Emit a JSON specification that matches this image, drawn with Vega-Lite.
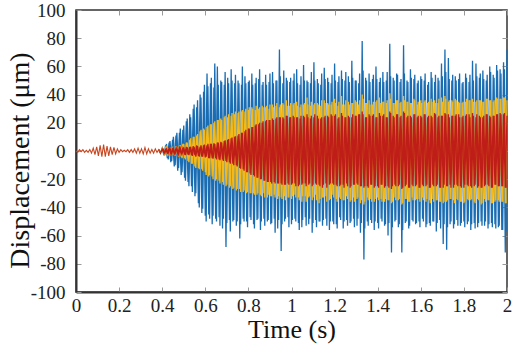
{
"$schema":"https://vega.github.io/schema/vega-lite/v6.json",
"width":431,"height":282,
"autosize":{"type":"none"},
"padding":{"left":76,"top":10,"right":11,"bottom":55},
"background":"white",
"config":{"view":{"stroke":"#333","strokeWidth":1.5},"font":"Liberation Serif",
 "style":{"guide-label":{"font":"Liberation Serif"},"guide-title":{"font":"Liberation Serif"}},
 "axis":{"labelFont":"Liberation Serif","titleFont":"Liberation Serif","labelFontSize":19,"labelColor":"#222","titleColor":"#111","titleFontWeight":"normal","grid":false}},
"data":{"name":"main"},
"datasets":{
"main":[
{"t":0,"b":0,"y":0,"r":0},{"t":0.008,"b":-1,"y":-1,"r":-1},{"t":0.016,"b":1,"y":1,"r":1},{"t":0.024,"b":-0.5,"y":-0.5,"r":-0.5},{"t":0.032,"b":1,"y":1,"r":1},
{"t":0.04,"b":-1,"y":-1,"r":-1},{"t":0.048,"b":0.5,"y":0.5,"r":0.5},{"t":0.056,"b":-1,"y":-1,"r":-1},{"t":0.064,"b":1,"y":1,"r":1},{"t":0.072,"b":-1.5,"y":-1.5,"r":-1.5},
{"t":0.08,"b":2,"y":2,"r":2},{"t":0.088,"b":-2.5,"y":-2.5,"r":-2.5},{"t":0.096,"b":3,"y":3,"r":3},{"t":0.104,"b":-3.5,"y":-3.5,"r":-3.5},{"t":0.112,"b":4,"y":4,"r":4},
{"t":0.12,"b":-4,"y":-4,"r":-4},{"t":0.128,"b":4.5,"y":4.5,"r":4.5},{"t":0.136,"b":-4,"y":-4,"r":-4},{"t":0.144,"b":3.5,"y":3.5,"r":3.5},{"t":0.152,"b":-3.5,"y":-3.5,"r":-3.5},
{"t":0.16,"b":3,"y":3,"r":3},{"t":0.168,"b":-2.5,"y":-2.5,"r":-2.5},{"t":0.176,"b":2.5,"y":2.5,"r":2.5},{"t":0.184,"b":-2,"y":-2,"r":-2},{"t":0.192,"b":1.5,"y":1.5,"r":1.5},
{"t":0.2,"b":-1,"y":-1,"r":-1},{"t":0.208,"b":1,"y":1,"r":1},{"t":0.216,"b":-0.5,"y":-0.5,"r":-0.5},{"t":0.224,"b":0.5,"y":0.5,"r":0.5},{"t":0.232,"b":-0.5,"y":-0.5,"r":-0.5},
{"t":0.24,"b":1,"y":1,"r":1},{"t":0.248,"b":-1,"y":-1,"r":-1},{"t":0.256,"b":1,"y":1,"r":1},{"t":0.264,"b":-1,"y":-1,"r":-1},{"t":0.272,"b":1.5,"y":1.5,"r":1.5},
{"t":0.28,"b":-1.5,"y":-1.5,"r":-1.5},{"t":0.288,"b":2,"y":2,"r":2},{"t":0.296,"b":-1.5,"y":-1.5,"r":-1.5},{"t":0.304,"b":1.5,"y":1.5,"r":1.5},{"t":0.312,"b":-2,"y":-2,"r":-2},
{"t":0.32,"b":2.5,"y":2.5,"r":2.5},{"t":0.328,"b":-2,"y":-2,"r":-2},{"t":0.336,"b":1.5,"y":1.5,"r":1.5},{"t":0.344,"b":-1.5,"y":-1.5,"r":-1.5},{"t":0.352,"b":1,"y":1,"r":1},
{"t":0.36,"b":-1.5,"y":-1.5,"r":-1.5},{"t":0.368,"b":1.5,"y":1.5,"r":1.5},{"t":0.376,"b":-1,"y":-1,"r":-1},{"t":0.384,"b":1,"y":1,"r":1},{"t":0.392,"b":-1.5,"y":-1.5,"r":-1.5},
{"t":0.4,"b":2,"y":2,"r":1.5},{"t":0.408,"b":-3,"y":-2,"r":-1.5},{"t":0.416,"b":4,"y":2,"r":1},{"t":0.424,"b":-5,"y":-2.5,"r":-1.5},{"t":0.432,"b":6,"y":2,"r":2},
{"t":0.44,"b":-8,"y":-3,"r":-2},{"t":0.448,"b":8,"y":3,"r":1.5},{"t":0.456,"b":-11,"y":-3,"r":-2},{"t":0.464,"b":11,"y":3.5,"r":2},{"t":0.472,"b":-14,"y":-3,"r":-2},
{"t":0.48,"b":13,"y":4,"r":2.5},{"t":0.488,"b":-17,"y":-4,"r":-2},{"t":0.496,"b":15,"y":5,"r":2},{"t":0.504,"b":-19,"y":-5,"r":-2.5},{"t":0.512,"b":21,"y":6,"r":3},
{"t":0.52,"b":-22,"y":-7,"r":-2.5},{"t":0.528,"b":26,"y":8,"r":3},{"t":0.536,"b":-25,"y":-9,"r":-3},{"t":0.544,"b":30,"y":10,"r":3.5},{"t":0.552,"b":-32,"y":-11,"r":-3},
{"t":0.56,"b":31,"y":11,"r":4},{"t":0.568,"b":-37,"y":-12,"r":-3.5},{"t":0.576,"b":40,"y":14,"r":3},{"t":0.584,"b":-44,"y":-13,"r":-4},{"t":0.592,"b":42,"y":16,"r":4},
{"t":0.6,"b":-46,"y":-15,"r":-4.5},{"t":0.608,"b":55,"y":17,"r":4},{"t":0.616,"b":-45,"y":-18,"r":-5},{"t":0.624,"b":48,"y":19,"r":5},{"t":0.632,"b":-52,"y":-18,"r":-5},
{"t":0.64,"b":45,"y":20,"r":5.5},{"t":0.648,"b":-48,"y":-21,"r":-5},{"t":0.656,"b":60,"y":22,"r":6},{"t":0.664,"b":-47,"y":-21,"r":-6},{"t":0.672,"b":50,"y":23,"r":6.5},
{"t":0.68,"b":-55,"y":-22,"r":-6},{"t":0.688,"b":47,"y":24,"r":7},{"t":0.696,"b":-68,"y":-25,"r":-7},{"t":0.704,"b":52,"y":24,"r":8},{"t":0.712,"b":-49,"y":-26,"r":-8},
{"t":0.72,"b":58,"y":25,"r":9},{"t":0.728,"b":-50,"y":-27,"r":-9},{"t":0.736,"b":48,"y":26,"r":10},{"t":0.744,"b":-53,"y":-28,"r":-10},{"t":0.752,"b":50,"y":27,"r":11},
{"t":0.76,"b":-62,"y":-27,"r":-12},{"t":0.768,"b":47,"y":28,"r":13},{"t":0.776,"b":-48,"y":-29,"r":-13},{"t":0.784,"b":53,"y":28,"r":14},{"t":0.792,"b":-50,"y":-30,"r":-15},
{"t":0.8,"b":49,"y":29,"r":16},{"t":0.808,"b":-47,"y":-30,"r":-16},{"t":0.816,"b":55,"y":31,"r":17},{"t":0.824,"b":-52,"y":-30,"r":-17},{"t":0.832,"b":48,"y":29,"r":18},
{"t":0.84,"b":-49,"y":-31,"r":-19},{"t":0.848,"b":51,"y":30,"r":19},{"t":0.856,"b":-56,"y":-31,"r":-20},{"t":0.864,"b":47,"y":32,"r":20},{"t":0.872,"b":-48,"y":-30,"r":-21},
{"t":0.88,"b":54,"y":31,"r":21},{"t":0.888,"b":-50,"y":-33,"r":-22},{"t":0.896,"b":49,"y":30,"r":22},{"t":0.904,"b":-52,"y":-32,"r":-22},{"t":0.912,"b":56,"y":33,"r":23},
{"t":0.92,"b":-48,"y":-31,"r":-22},{"t":0.928,"b":50,"y":32,"r":23},{"t":0.936,"b":-55,"y":-34,"r":-23},{"t":0.944,"b":72,"y":31,"r":24},{"t":0.952,"b":-71,"y":-33,"r":-23},
{"t":0.96,"b":48,"y":34,"r":24},{"t":0.968,"b":-50,"y":-32,"r":-24},{"t":0.976,"b":52,"y":36,"r":25},{"t":0.984,"b":-47,"y":-33,"r":-23},{"t":0.992,"b":49,"y":32,"r":24},
{"t":1.0,"b":-52,"y":-34,"r":-24},{"t":1.008,"b":50,"y":33,"r":25},{"t":1.016,"b":-48,"y":-31,"r":-23},{"t":1.024,"b":58,"y":35,"r":24},{"t":1.032,"b":-51,"y":-33,"r":-25},
{"t":1.04,"b":47,"y":31,"r":23},{"t":1.048,"b":-54,"y":-36,"r":-24},{"t":1.056,"b":61,"y":33,"r":25},{"t":1.064,"b":-47,"y":-32,"r":-23},{"t":1.072,"b":50,"y":38,"r":26},
{"t":1.08,"b":-52,"y":-33,"r":-24},{"t":1.088,"b":48,"y":32,"r":23},{"t":1.096,"b":-58,"y":-35,"r":-25},{"t":1.104,"b":63,"y":33,"r":24},{"t":1.112,"b":-49,"y":-31,"r":-23},
{"t":1.12,"b":51,"y":34,"r":25},{"t":1.128,"b":-50,"y":-37,"r":-24},{"t":1.136,"b":47,"y":32,"r":23},{"t":1.144,"b":-53,"y":-33,"r":-26},{"t":1.152,"b":59,"y":36,"r":24},
{"t":1.16,"b":-48,"y":-32,"r":-23},{"t":1.168,"b":52,"y":34,"r":25},{"t":1.176,"b":-56,"y":-35,"r":-24},{"t":1.184,"b":48,"y":33,"r":26},{"t":1.192,"b":-50,"y":-31,"r":-23},
{"t":1.2,"b":62,"y":37,"r":25},{"t":1.208,"b":-52,"y":-34,"r":-24},{"t":1.216,"b":49,"y":32,"r":23},{"t":1.224,"b":-47,"y":-33,"r":-25},{"t":1.232,"b":57,"y":39,"r":27},
{"t":1.24,"b":-55,"y":-35,"r":-24},{"t":1.248,"b":50,"y":33,"r":24},{"t":1.256,"b":-49,"y":-32,"r":-23},{"t":1.264,"b":53,"y":35,"r":25},{"t":1.272,"b":-51,"y":-36,"r":-26},
{"t":1.28,"b":64,"y":34,"r":24},{"t":1.288,"b":-48,"y":-33,"r":-24},{"t":1.296,"b":50,"y":36,"r":25},{"t":1.304,"b":-53,"y":-34,"r":-23},{"t":1.312,"b":48,"y":33,"r":26},
{"t":1.32,"b":-58,"y":-37,"r":-25},{"t":1.328,"b":78,"y":40,"r":28},{"t":1.336,"b":-77,"y":-38,"r":-26},{"t":1.344,"b":52,"y":34,"r":24},{"t":1.352,"b":-50,"y":-33,"r":-25},
{"t":1.36,"b":55,"y":36,"r":26},{"t":1.368,"b":-49,"y":-34,"r":-24},{"t":1.376,"b":51,"y":33,"r":25},{"t":1.384,"b":-56,"y":-36,"r":-26},{"t":1.392,"b":60,"y":35,"r":24},
{"t":1.4,"b":-51,"y":-33,"r":-25},{"t":1.408,"b":49,"y":38,"r":27},{"t":1.416,"b":-48,"y":-34,"r":-24},{"t":1.424,"b":56,"y":35,"r":25},{"t":1.432,"b":-53,"y":-36,"r":-26},
{"t":1.44,"b":50,"y":34,"r":24},{"t":1.448,"b":-60,"y":-35,"r":-25},{"t":1.456,"b":76,"y":41,"r":28},{"t":1.464,"b":-72,"y":-37,"r":-27},{"t":1.472,"b":52,"y":34,"r":25},
{"t":1.48,"b":-50,"y":-33,"r":-24},{"t":1.488,"b":55,"y":36,"r":26},{"t":1.496,"b":-54,"y":-35,"r":-25},{"t":1.504,"b":49,"y":34,"r":24},{"t":1.512,"b":-72,"y":-38,"r":-27},
{"t":1.52,"b":75,"y":39,"r":28},{"t":1.528,"b":-51,"y":-34,"r":-25},{"t":1.536,"b":50,"y":35,"r":24},{"t":1.544,"b":-55,"y":-36,"r":-26},{"t":1.552,"b":58,"y":34,"r":25},
{"t":1.56,"b":-49,"y":-33,"r":-24},{"t":1.568,"b":51,"y":37,"r":26},{"t":1.576,"b":-52,"y":-35,"r":-25},{"t":1.584,"b":48,"y":33,"r":24},{"t":1.592,"b":-50,"y":-34,"r":-26},
{"t":1.6,"b":53,"y":36,"r":25},{"t":1.608,"b":-48,"y":-33,"r":-24},{"t":1.616,"b":50,"y":35,"r":26},{"t":1.624,"b":-54,"y":-36,"r":-25},{"t":1.632,"b":47,"y":34,"r":24},
{"t":1.64,"b":-51,"y":-35,"r":-26},{"t":1.648,"b":56,"y":37,"r":25},{"t":1.656,"b":-50,"y":-34,"r":-24},{"t":1.664,"b":49,"y":36,"r":27},{"t":1.672,"b":-57,"y":-35,"r":-25},
{"t":1.68,"b":52,"y":34,"r":24},{"t":1.688,"b":-49,"y":-36,"r":-26},{"t":1.696,"b":62,"y":38,"r":25},{"t":1.704,"b":-66,"y":-37,"r":-26},{"t":1.712,"b":72,"y":39,"r":27},
{"t":1.72,"b":-70,"y":-36,"r":-25},{"t":1.728,"b":66,"y":35,"r":26},{"t":1.736,"b":-52,"y":-34,"r":-24},{"t":1.744,"b":50,"y":36,"r":25},{"t":1.752,"b":-55,"y":-35,"r":-26},
{"t":1.76,"b":53,"y":37,"r":25},{"t":1.768,"b":-49,"y":-34,"r":-24},{"t":1.776,"b":51,"y":35,"r":26},{"t":1.784,"b":-53,"y":-36,"r":-25},{"t":1.792,"b":48,"y":34,"r":24},
{"t":1.8,"b":-50,"y":-37,"r":-26},{"t":1.808,"b":55,"y":35,"r":25},{"t":1.816,"b":-52,"y":-34,"r":-24},{"t":1.824,"b":49,"y":36,"r":26},{"t":1.832,"b":-56,"y":-35,"r":-25},
{"t":1.84,"b":64,"y":37,"r":27},{"t":1.848,"b":-51,"y":-36,"r":-25},{"t":1.856,"b":62,"y":35,"r":24},{"t":1.864,"b":-54,"y":-34,"r":-26},{"t":1.872,"b":52,"y":36,"r":25},
{"t":1.88,"b":-50,"y":-38,"r":-26},{"t":1.888,"b":57,"y":35,"r":24},{"t":1.896,"b":-53,"y":-34,"r":-25},{"t":1.904,"b":50,"y":37,"r":26},{"t":1.912,"b":-55,"y":-35,"r":-24},
{"t":1.92,"b":60,"y":36,"r":25},{"t":1.928,"b":-51,"y":-37,"r":-26},{"t":1.936,"b":54,"y":35,"r":25},{"t":1.944,"b":-52,"y":-36,"r":-24},{"t":1.952,"b":61,"y":38,"r":26},
{"t":1.96,"b":-54,"y":-35,"r":-25},{"t":1.968,"b":58,"y":37,"r":27},{"t":1.976,"b":-56,"y":-36,"r":-25},{"t":1.984,"b":63,"y":38,"r":26},{"t":1.992,"b":-72,"y":-37,"r":-26},
{"t":2.0,"b":72,"y":36,"r":25}
],
"mid":[
{"t":0.404,"b":2,"y":2,"r":1.5},{"t":0.412,"b":-3,"y":-2,"r":-1.5},{"t":0.42,"b":5,"y":2.5,"r":1.5},{"t":0.428,"b":-6,"y":-2,"r":-1.5},{"t":0.436,"b":7,"y":2.5,"r":2},
{"t":0.444,"b":-7,"y":-3,"r":-2},{"t":0.452,"b":10,"y":3,"r":2},{"t":0.46,"b":-10,"y":-3.5,"r":-2},{"t":0.468,"b":13,"y":3,"r":2},{"t":0.476,"b":-12,"y":-4,"r":-2.5},
{"t":0.484,"b":16,"y":4,"r":2},{"t":0.492,"b":-15,"y":-5,"r":-2},{"t":0.5,"b":18,"y":5,"r":2.5},{"t":0.508,"b":-21,"y":-6,"r":-3},{"t":0.516,"b":23,"y":6,"r":2.5},
{"t":0.524,"b":-25,"y":-8,"r":-3},{"t":0.532,"b":24,"y":9,"r":3},{"t":0.54,"b":-29,"y":-9,"r":-3.5},{"t":0.548,"b":33,"y":10,"r":3},{"t":0.556,"b":-30,"y":-12,"r":-4},
{"t":0.564,"b":36,"y":12,"r":3.5},{"t":0.572,"b":-40,"y":-13,"r":-4},{"t":0.58,"b":38,"y":15,"r":4},{"t":0.588,"b":-41,"y":-14,"r":-4},{"t":0.596,"b":47,"y":15,"r":4.5},
{"t":0.604,"b":-50,"y":-17,"r":-4},{"t":0.612,"b":46,"y":18,"r":5},{"t":0.62,"b":-48,"y":-17,"r":-5},{"t":0.628,"b":52,"y":19,"r":5},{"t":0.636,"b":-46,"y":-20,"r":-5.5},
{"t":0.644,"b":62,"y":21,"r":5},{"t":0.652,"b":-50,"y":-20,"r":-6},{"t":0.66,"b":47,"y":22,"r":6},{"t":0.668,"b":-53,"y":-23,"r":-6.5},{"t":0.676,"b":49,"y":22,"r":6},
{"t":0.684,"b":-48,"y":-24,"r":-7},{"t":0.692,"b":56,"y":25,"r":7.5},{"t":0.7,"b":-51,"y":-24,"r":-8},{"t":0.708,"b":48,"y":26,"r":8.5},{"t":0.716,"b":-57,"y":-25,"r":-9},
{"t":0.724,"b":50,"y":27,"r":9.5},{"t":0.732,"b":-49,"y":-26,"r":-10},{"t":0.74,"b":54,"y":28,"r":10.5},{"t":0.748,"b":-50,"y":-27,"r":-11},{"t":0.756,"b":48,"y":28,"r":12},
{"t":0.764,"b":-52,"y":-29,"r":-12.5},{"t":0.772,"b":60,"y":29,"r":13},{"t":0.78,"b":-50,"y":-28,"r":-14},{"t":0.788,"b":48,"y":30,"r":15},{"t":0.796,"b":-54,"y":-29,"r":-15},
{"t":0.804,"b":50,"y":31,"r":16},{"t":0.812,"b":-49,"y":-30,"r":-17},{"t":0.82,"b":47,"y":30,"r":17},{"t":0.828,"b":-55,"y":-31,"r":-18},{"t":0.836,"b":52,"y":32,"r":19},
{"t":0.844,"b":-48,"y":-30,"r":-19},{"t":0.852,"b":58,"y":31,"r":20},{"t":0.86,"b":-50,"y":-32,"r":-20},{"t":0.868,"b":49,"y":31,"r":21},{"t":0.876,"b":-53,"y":-33,"r":-21},
{"t":0.884,"b":47,"y":32,"r":22},{"t":0.892,"b":-49,"y":-31,"r":-22},{"t":0.9,"b":55,"y":33,"r":22},{"t":0.908,"b":-51,"y":-32,"r":-23},{"t":0.916,"b":48,"y":31,"r":22},
{"t":0.924,"b":-58,"y":-33,"r":-23},{"t":0.932,"b":50,"y":34,"r":24},{"t":0.94,"b":-49,"y":-32,"r":-23},{"t":0.948,"b":53,"y":33,"r":24},{"t":0.956,"b":-52,"y":-34,"r":-24},
{"t":0.964,"b":57,"y":33,"r":23},{"t":0.972,"b":-48,"y":-35,"r":-24},{"t":0.98,"b":50,"y":32,"r":25},{"t":0.988,"b":-54,"y":-33,"r":-24},{"t":0.996,"b":52,"y":34,"r":24},
{"t":1.004,"b":-49,"y":-32,"r":-23},{"t":1.012,"b":55,"y":34,"r":24},{"t":1.02,"b":-50,"y":-33,"r":-25},{"t":1.028,"b":48,"y":32,"r":24},{"t":1.036,"b":-56,"y":-35,"r":-24},
{"t":1.044,"b":53,"y":33,"r":25},{"t":1.052,"b":-49,"y":-32,"r":-23},{"t":1.06,"b":50,"y":34,"r":24},{"t":1.068,"b":-53,"y":-36,"r":-25},{"t":1.076,"b":49,"y":33,"r":24},
{"t":1.084,"b":-48,"y":-32,"r":-23},{"t":1.092,"b":56,"y":35,"r":25},{"t":1.1,"b":-51,"y":-33,"r":-24},{"t":1.108,"b":50,"y":34,"r":26},{"t":1.116,"b":-54,"y":-35,"r":-24},
{"t":1.124,"b":48,"y":33,"r":23},{"t":1.132,"b":-50,"y":-34,"r":-25},{"t":1.14,"b":55,"y":36,"r":24},{"t":1.148,"b":-49,"y":-33,"r":-24},{"t":1.156,"b":51,"y":34,"r":25},
{"t":1.164,"b":-53,"y":-36,"r":-26},{"t":1.172,"b":49,"y":33,"r":24},{"t":1.18,"b":-50,"y":-34,"r":-23},{"t":1.188,"b":54,"y":35,"r":25},{"t":1.196,"b":-52,"y":-33,"r":-24},
{"t":1.204,"b":50,"y":34,"r":26},{"t":1.212,"b":-55,"y":-36,"r":-25},{"t":1.22,"b":53,"y":35,"r":24},{"t":1.228,"b":-49,"y":-34,"r":-24},{"t":1.236,"b":51,"y":33,"r":25},
{"t":1.244,"b":-50,"y":-35,"r":-26},{"t":1.252,"b":56,"y":36,"r":24},{"t":1.26,"b":-53,"y":-34,"r":-25},{"t":1.268,"b":49,"y":33,"r":24},{"t":1.276,"b":-50,"y":-35,"r":-25},
{"t":1.284,"b":52,"y":34,"r":26},{"t":1.292,"b":-54,"y":-36,"r":-24},{"t":1.3,"b":50,"y":35,"r":25},{"t":1.308,"b":-48,"y":-33,"r":-24},{"t":1.316,"b":55,"y":36,"r":26},
{"t":1.324,"b":-51,"y":-35,"r":-25},{"t":1.332,"b":57,"y":37,"r":26},{"t":1.34,"b":-55,"y":-36,"r":-25},{"t":1.348,"b":50,"y":34,"r":24},{"t":1.356,"b":-53,"y":-35,"r":-26},
{"t":1.364,"b":49,"y":33,"r":25},{"t":1.372,"b":-51,"y":-36,"r":-24},{"t":1.38,"b":54,"y":35,"r":26},{"t":1.388,"b":-50,"y":-34,"r":-25},{"t":1.396,"b":51,"y":36,"r":24},
{"t":1.404,"b":-55,"y":-35,"r":-26},{"t":1.412,"b":52,"y":34,"r":25},{"t":1.42,"b":-50,"y":-36,"r":-24},{"t":1.428,"b":49,"y":35,"r":26},{"t":1.436,"b":-52,"y":-34,"r":-25},
{"t":1.444,"b":56,"y":36,"r":24},{"t":1.452,"b":-51,"y":-35,"r":-26},{"t":1.46,"b":53,"y":37,"r":27},{"t":1.468,"b":-54,"y":-36,"r":-25},{"t":1.476,"b":50,"y":34,"r":24},
{"t":1.484,"b":-49,"y":-35,"r":-25},{"t":1.492,"b":54,"y":36,"r":26},{"t":1.5,"b":-52,"y":-34,"r":-24},{"t":1.508,"b":51,"y":35,"r":25},{"t":1.516,"b":-56,"y":-37,"r":-26},
{"t":1.524,"b":55,"y":36,"r":27},{"t":1.532,"b":-50,"y":-34,"r":-24},{"t":1.54,"b":49,"y":35,"r":25},{"t":1.548,"b":-53,"y":-36,"r":-26},{"t":1.556,"b":52,"y":34,"r":24},
{"t":1.564,"b":-50,"y":-35,"r":-25},{"t":1.572,"b":54,"y":36,"r":26},{"t":1.58,"b":-51,"y":-34,"r":-24},{"t":1.588,"b":50,"y":35,"r":25},{"t":1.596,"b":-54,"y":-36,"r":-26},
{"t":1.604,"b":51,"y":34,"r":24},{"t":1.612,"b":-50,"y":-35,"r":-25},{"t":1.62,"b":55,"y":36,"r":26},{"t":1.628,"b":-52,"y":-34,"r":-24},{"t":1.636,"b":49,"y":35,"r":25},
{"t":1.644,"b":-53,"y":-37,"r":-26},{"t":1.652,"b":52,"y":35,"r":24},{"t":1.66,"b":-50,"y":-36,"r":-25},{"t":1.668,"b":54,"y":34,"r":26},{"t":1.676,"b":-51,"y":-35,"r":-24},
{"t":1.684,"b":50,"y":37,"r":25},{"t":1.692,"b":-55,"y":-36,"r":-26},{"t":1.7,"b":53,"y":35,"r":25},{"t":1.708,"b":-52,"y":-36,"r":-24},{"t":1.716,"b":56,"y":37,"r":26},
{"t":1.724,"b":-54,"y":-35,"r":-25},{"t":1.732,"b":51,"y":36,"r":24},{"t":1.74,"b":-50,"y":-34,"r":-26},{"t":1.748,"b":54,"y":35,"r":25},{"t":1.756,"b":-52,"y":-37,"r":-24},
{"t":1.764,"b":50,"y":36,"r":26},{"t":1.772,"b":-53,"y":-35,"r":-25},{"t":1.78,"b":55,"y":34,"r":24},{"t":1.788,"b":-51,"y":-36,"r":-26},{"t":1.796,"b":49,"y":35,"r":25},
{"t":1.804,"b":-54,"y":-36,"r":-24},{"t":1.812,"b":52,"y":37,"r":26},{"t":1.82,"b":-50,"y":-35,"r":-25},{"t":1.828,"b":54,"y":36,"r":24},{"t":1.836,"b":-52,"y":-34,"r":-26},
{"t":1.844,"b":50,"y":35,"r":25},{"t":1.852,"b":-55,"y":-37,"r":-24},{"t":1.86,"b":53,"y":36,"r":26},{"t":1.868,"b":-51,"y":-35,"r":-25},{"t":1.876,"b":55,"y":36,"r":24},
{"t":1.884,"b":-53,"y":-37,"r":-26},{"t":1.892,"b":51,"y":35,"r":25},{"t":1.9,"b":-50,"y":-36,"r":-24},{"t":1.908,"b":54,"y":37,"r":26},{"t":1.916,"b":-52,"y":-35,"r":-25},
{"t":1.924,"b":56,"y":36,"r":24},{"t":1.932,"b":-54,"y":-37,"r":-26},{"t":1.94,"b":52,"y":36,"r":25},{"t":1.948,"b":-55,"y":-35,"r":-24},{"t":1.956,"b":57,"y":37,"r":26},
{"t":1.964,"b":-53,"y":-36,"r":-25},{"t":1.972,"b":55,"y":37,"r":26},{"t":1.98,"b":-56,"y":-36,"r":-25},{"t":1.988,"b":58,"y":38,"r":27},{"t":1.996,"b":-57,"y":-37,"r":-26}
]},
"layer":[
{"transform":[{"filter":"datum.t >= 0.384"}],
 "mark":{"type":"line","color":"#1a6db3","strokeWidth":1.3},
 "encoding":{
  "x":{"field":"t","type":"quantitative","scale":{"domain":[0,2],"nice":false},
   "axis":{"title":"Time (s)","values":[0,0.2,0.4,0.6,0.8,1,1.2,1.4,1.6,1.8,2],"format":"~g",
    "domainColor":"#333","domainWidth":2,"tickColor":"#999","tickSize":-5,"labelPadding":9,"labelFlush":false,
    "titleFontSize":26,"titlePadding":1}},
  "y":{"field":"b","type":"quantitative","scale":{"domain":[-100,100],"nice":false},
   "axis":{"title":"Displacement (μm)","values":[-100,-80,-60,-40,-20,0,20,40,60,80,100],"labelExpr":"'' + datum.value",
    "domainColor":"#333","domainWidth":2,"tickColor":"#999","tickSize":-5,"labelPadding":16,"labelFlush":false,
    "titleFontSize":28,"titlePadding":-4,"titleY":150}}}},
{"data":{"name":"mid"},
 "mark":{"type":"line","color":"#1a6db3","strokeWidth":1.3},
 "encoding":{"x":{"field":"t","type":"quantitative","axis":null},"y":{"field":"b","type":"quantitative","axis":null}}},
{"transform":[{"filter":"datum.t >= 0.384"}],
 "mark":{"type":"line","color":"#f4b918","strokeWidth":1.3},
 "encoding":{"x":{"field":"t","type":"quantitative","axis":null},"y":{"field":"y","type":"quantitative","axis":null}}},
{"data":{"name":"mid"},
 "mark":{"type":"line","color":"#f4b918","strokeWidth":1.3},
 "encoding":{"x":{"field":"t","type":"quantitative","axis":null},"y":{"field":"y","type":"quantitative","axis":null}}},
{"transform":[{"filter":"datum.t >= 0.384"}],
 "mark":{"type":"line","color":"#bf1e18","strokeWidth":1.3},
 "encoding":{"x":{"field":"t","type":"quantitative","axis":null},"y":{"field":"r","type":"quantitative","axis":null}}},
{"data":{"name":"mid"},
 "mark":{"type":"line","color":"#bf1e18","strokeWidth":1.3},
 "encoding":{"x":{"field":"t","type":"quantitative","axis":null},"y":{"field":"r","type":"quantitative","axis":null}}},
{"transform":[{"filter":"datum.t <= 0.392"}],
 "mark":{"type":"line","color":"#c8461f","strokeWidth":1.1},
 "encoding":{"x":{"field":"t","type":"quantitative","axis":null},"y":{"field":"r","type":"quantitative","axis":null}}},
{"mark":{"type":"line","opacity":0},
 "encoding":{
  "x":{"field":"t","type":"quantitative","axis":{"orient":"top","title":null,"labels":false,"domain":false,"values":[0,0.2,0.4,0.6,0.8,1,1.2,1.4,1.6,1.8,2],"tickColor":"#999","tickSize":-5}},
  "y":{"field":"r","type":"quantitative","axis":{"orient":"right","title":null,"labels":false,"domain":false,"values":[-100,-80,-60,-40,-20,0,20,40,60,80,100],"tickColor":"#999","tickSize":-5}}}}
],
"resolve":{"axis":{"x":"independent","y":"independent"}}
}
